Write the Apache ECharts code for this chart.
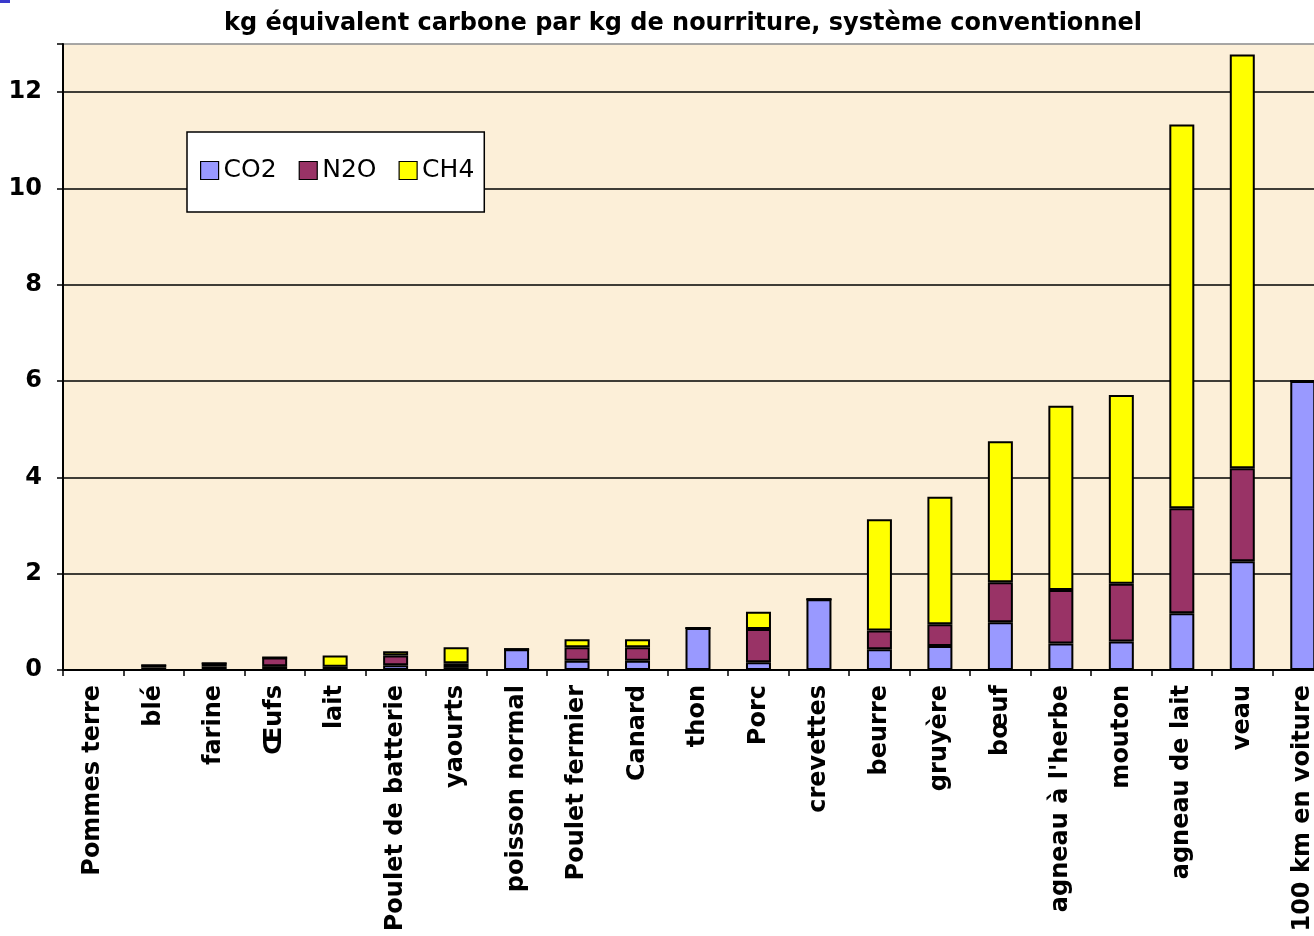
<!DOCTYPE html>
<html>
<head>
<meta charset="utf-8">
<script src="https://cdn.jsdelivr.net/npm/echarts@6/dist/echarts.min.js"></script>
<style>
  html, body { margin: 0; padding: 0; background: #ffffff; }
  #chart { width: 1314px; height: 936px; }
</style>
</head>
<body>
<div id="chart"></div>
<script>
// Aliments (et une voiture pour comparaison)
const categories = [
  'Pommes terre', 'blé', 'farine', 'Œufs', 'lait', 'Poulet de batterie',
  'yaourts', 'poisson normal', 'Poulet fermier', 'Canard', 'thon', 'Porc',
  'crevettes', 'beurre', 'gruyère', 'bœuf', "agneau à l'herbe", 'mouton',
  'agneau de lait', 'veau', '100 km en voiture'
];

// kg équivalent carbone par kg, par gaz
const co2 = [0, 0.05, 0.07, 0.08, 0.02, 0.10, 0.06, 0.43, 0.19, 0.19, 0.87, 0.16,
             1.47, 0.43, 0.50, 0.99, 0.55, 0.59, 1.18, 2.26, 6.00];
const n2o = [0, 0.05, 0.07, 0.18, 0.05, 0.20, 0.08, 0, 0.28, 0.28, 0, 0.69,
             0, 0.39, 0.45, 0.83, 1.11, 1.20, 2.18, 1.93, 0];
const ch4 = [0, 0, 0, 0, 0.23, 0.09, 0.33, 0, 0.17, 0.17, 0, 0.36,
             0, 2.31, 2.65, 2.93, 3.83, 3.92, 7.97, 8.59, 0];

const yTicks = [0, 2, 4, 6, 8, 10, 12];

const chart = echarts.init(document.getElementById('chart'), null, { renderer: 'canvas' });

const barStyle = (color) => ({ color: color, borderColor: '#000000', borderWidth: 2 });

chart.setOption({
  animation: false,
  backgroundColor: '#ffffff',
  textStyle: { fontFamily: 'DejaVu Sans' },
  title: {
    text: 'kg équivalent carbone par kg de nourriture, système conventionnel',
    left: 219,
    top: 7,
    textStyle: { fontFamily: 'DejaVu Sans', fontWeight: 'bold', fontSize: 24, color: '#000000' }
  },
  legend: {
    data: ['CO2', 'N2O', 'CH4'],
    left: 187,
    top: 132,
    orient: 'horizontal',
    icon: 'rect',
    itemWidth: 18,
    itemHeight: 18,
    itemGap: 22,
    padding: [26, 10, 29, 13],
    backgroundColor: '#ffffff',
    borderColor: '#000000',
    borderWidth: 1.5,
    itemStyle: { borderColor: '#000000', borderWidth: 1.2 },
    textStyle: { fontFamily: 'DejaVu Sans', fontSize: 25, color: '#000000' }
  },
  grid: {
    left: 63,
    top: 44,
    width: 1270,
    bottom: 266,
    show: true,
    backgroundColor: '#fcefd8',
    borderColor: '#9a9a9a',
    borderWidth: 1,
    containLabel: false,
    outerBoundsMode: 'none'
  },
  xAxis: {
    type: 'category',
    data: categories,
    boundaryGap: true,
    axisLine: { show: true, lineStyle: { color: '#000000', width: 2 } },
    axisTick: { show: true, length: 6, lineStyle: { color: '#000000', width: 1.5 } },
    axisLabel: {
      interval: 0,
      rotate: 90,
      margin: 15,
      fontFamily: 'DejaVu Sans',
      fontWeight: 'bold',
      fontSize: 24,
      color: '#000000'
    }
  },
  yAxis: {
    type: 'value',
    min: 0,
    max: 13,
    interval: 2,
    axisLine: { show: true, lineStyle: { color: '#000000', width: 2 } },
    axisTick: { show: true, length: 6, lineStyle: { color: '#000000', width: 1.5 } },
    axisLabel: {
      margin: 21,
      fontFamily: 'DejaVu Sans',
      fontWeight: 'bold',
      fontSize: 24,
      color: '#000000',
      formatter: (v) => (yTicks.indexOf(v) >= 0 ? String(v) : '')
    },
    splitLine: {
      show: true,
      lineStyle: {
        color: ['#000000', '#000000', '#000000', '#000000', '#000000', '#000000', '#000000', '#9a9a9a'],
        width: 1.5
      }
    }
  },
  series: [
    { name: 'CO2', type: 'bar', stack: 'gaz', barWidth: 25, data: co2, itemStyle: barStyle('#9999ff') },
    { name: 'N2O', type: 'bar', stack: 'gaz', barWidth: 25, data: n2o, itemStyle: barStyle('#993366') },
    { name: 'CH4', type: 'bar', stack: 'gaz', barWidth: 25, data: ch4, itemStyle: barStyle('#ffff00') }
  ],
  graphic: [
    { type: 'rect', left: 0, top: 0, shape: { width: 10, height: 3 }, style: { fill: '#3a3acc' }, silent: true }
  ]
});
</script>
</body>
</html>
